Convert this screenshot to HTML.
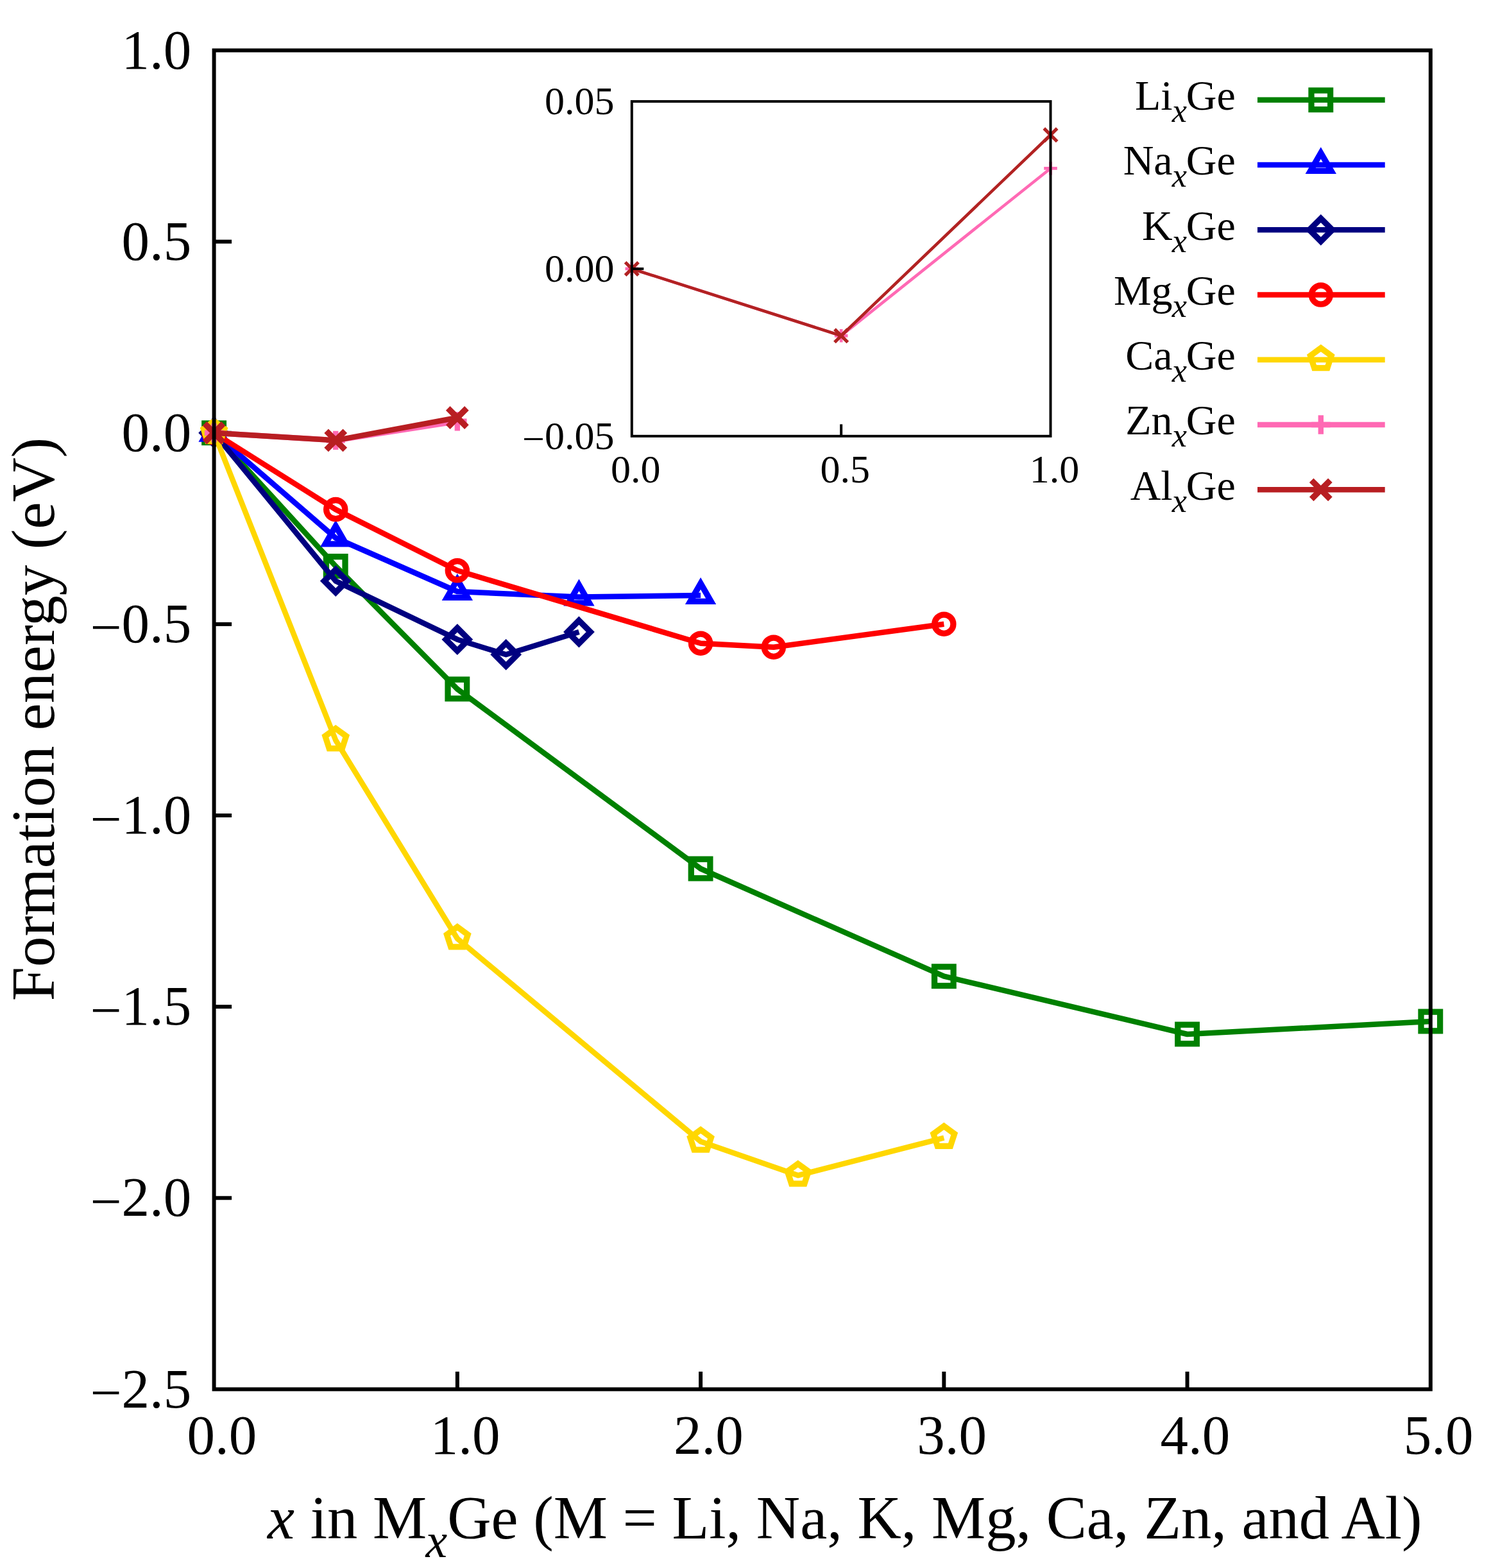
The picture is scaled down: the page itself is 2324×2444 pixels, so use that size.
<!DOCTYPE html><html><head><meta charset="utf-8"><title>Formation energy of MxGe</title>
<style>html,body{margin:0;padding:0;background:#fff;overflow:hidden;}svg{display:block;}text{font-family:"Liberation Serif","Times New Roman",serif;fill:#000;}</style></head><body>
<svg width="2324" height="2444" viewBox="0 0 2324 2444">
<rect width="2324" height="2444" fill="#fff"/>
<line x1="333.6" y1="376.63" x2="361.1" y2="376.63" stroke="#000" stroke-width="6.0"/>
<line x1="333.6" y1="674.76" x2="361.1" y2="674.76" stroke="#000" stroke-width="6.0"/>
<line x1="333.6" y1="972.89" x2="361.1" y2="972.89" stroke="#000" stroke-width="6.0"/>
<line x1="333.6" y1="1271.01" x2="361.1" y2="1271.01" stroke="#000" stroke-width="6.0"/>
<line x1="333.6" y1="1569.14" x2="361.1" y2="1569.14" stroke="#000" stroke-width="6.0"/>
<line x1="333.6" y1="1867.27" x2="361.1" y2="1867.27" stroke="#000" stroke-width="6.0"/>
<line x1="712.84" y1="2165.4" x2="712.84" y2="2137.9" stroke="#000" stroke-width="6.0"/>
<line x1="1092.08" y1="2165.4" x2="1092.08" y2="2137.9" stroke="#000" stroke-width="6.0"/>
<line x1="1471.32" y1="2165.4" x2="1471.32" y2="2137.9" stroke="#000" stroke-width="6.0"/>
<line x1="1850.56" y1="2165.4" x2="1850.56" y2="2137.9" stroke="#000" stroke-width="6.0"/>
<path d="M333.60,674.76L523.22,882.50L712.84,1074.00L1092.08,1354.00L1471.32,1521.70L1850.56,1612.00L2229.80,1592.00" fill="none" stroke="#008000" stroke-width="8.5" stroke-linejoin="round" stroke-linecap="butt"/>
<rect x="318.80" y="659.96" width="29.60" height="29.60" fill="none" stroke="#008000" stroke-width="9.3" stroke-linejoin="miter"/>
<rect x="508.42" y="867.70" width="29.60" height="29.60" fill="none" stroke="#008000" stroke-width="9.3" stroke-linejoin="miter"/>
<rect x="698.04" y="1059.20" width="29.60" height="29.60" fill="none" stroke="#008000" stroke-width="9.3" stroke-linejoin="miter"/>
<rect x="1077.28" y="1339.20" width="29.60" height="29.60" fill="none" stroke="#008000" stroke-width="9.3" stroke-linejoin="miter"/>
<rect x="1456.52" y="1506.90" width="29.60" height="29.60" fill="none" stroke="#008000" stroke-width="9.3" stroke-linejoin="miter"/>
<rect x="1835.76" y="1597.20" width="29.60" height="29.60" fill="none" stroke="#008000" stroke-width="9.3" stroke-linejoin="miter"/>
<rect x="2215.00" y="1577.20" width="29.60" height="29.60" fill="none" stroke="#008000" stroke-width="9.3" stroke-linejoin="miter"/>
<path d="M333.60,674.76L523.22,838.50L712.84,922.00L902.46,930.50L1092.08,928.00" fill="none" stroke="#0000ff" stroke-width="8.5" stroke-linejoin="round" stroke-linecap="butt"/>
<path d="M333.60,656.16L317.49,684.06L349.71,684.06Z" fill="none" stroke="#0000ff" stroke-width="9.30" stroke-linejoin="miter" stroke-miterlimit="10"/>
<path d="M523.22,819.90L507.11,847.80L539.33,847.80Z" fill="none" stroke="#0000ff" stroke-width="9.30" stroke-linejoin="miter" stroke-miterlimit="10"/>
<path d="M712.84,903.40L696.73,931.30L728.95,931.30Z" fill="none" stroke="#0000ff" stroke-width="9.30" stroke-linejoin="miter" stroke-miterlimit="10"/>
<path d="M902.46,911.90L886.35,939.80L918.57,939.80Z" fill="none" stroke="#0000ff" stroke-width="9.30" stroke-linejoin="miter" stroke-miterlimit="10"/>
<path d="M1092.08,909.40L1075.97,937.30L1108.19,937.30Z" fill="none" stroke="#0000ff" stroke-width="9.30" stroke-linejoin="miter" stroke-miterlimit="10"/>
<path d="M333.60,674.76L523.22,905.60L712.84,996.70L788.69,1020.30L902.46,985.00" fill="none" stroke="#000080" stroke-width="8.5" stroke-linejoin="round" stroke-linecap="butt"/>
<path d="M333.60,656.96L351.40,674.76L333.60,692.56L315.80,674.76Z" fill="none" stroke="#000080" stroke-width="9.3" stroke-linejoin="miter"/>
<path d="M523.22,887.80L541.02,905.60L523.22,923.40L505.42,905.60Z" fill="none" stroke="#000080" stroke-width="9.3" stroke-linejoin="miter"/>
<path d="M712.84,978.90L730.64,996.70L712.84,1014.50L695.04,996.70Z" fill="none" stroke="#000080" stroke-width="9.3" stroke-linejoin="miter"/>
<path d="M788.69,1002.50L806.49,1020.30L788.69,1038.10L770.89,1020.30Z" fill="none" stroke="#000080" stroke-width="9.3" stroke-linejoin="miter"/>
<path d="M902.46,967.20L920.26,985.00L902.46,1002.80L884.66,985.00Z" fill="none" stroke="#000080" stroke-width="9.3" stroke-linejoin="miter"/>
<path d="M333.60,674.76L523.22,794.10L712.84,889.30L1092.08,1002.70L1205.85,1008.70L1471.32,972.70" fill="none" stroke="#ff0000" stroke-width="8.5" stroke-linejoin="round" stroke-linecap="butt"/>
<circle cx="333.60" cy="674.76" r="14.60" fill="none" stroke="#ff0000" stroke-width="9.3"/>
<circle cx="523.22" cy="794.10" r="14.60" fill="none" stroke="#ff0000" stroke-width="9.3"/>
<circle cx="712.84" cy="889.30" r="14.60" fill="none" stroke="#ff0000" stroke-width="9.3"/>
<circle cx="1092.08" cy="1002.70" r="14.60" fill="none" stroke="#ff0000" stroke-width="9.3"/>
<circle cx="1205.85" cy="1008.70" r="14.60" fill="none" stroke="#ff0000" stroke-width="9.3"/>
<circle cx="1471.32" cy="972.70" r="14.60" fill="none" stroke="#ff0000" stroke-width="9.3"/>
<path d="M333.60,674.76L523.22,1153.70L712.84,1463.00L1092.08,1779.30L1243.78,1832.10L1471.32,1773.50" fill="none" stroke="#ffd700" stroke-width="8.5" stroke-linejoin="round" stroke-linecap="butt"/>
<path d="M333.60,656.56L349.96,668.44L343.71,687.67L323.49,687.67L317.24,668.44Z" fill="none" stroke="#ffd700" stroke-width="9.3" stroke-linejoin="miter"/>
<path d="M523.22,1135.50L539.58,1147.38L533.33,1166.62L513.11,1166.62L506.86,1147.38Z" fill="none" stroke="#ffd700" stroke-width="9.3" stroke-linejoin="miter"/>
<path d="M712.84,1444.80L729.20,1456.68L722.95,1475.92L702.73,1475.92L696.48,1456.68Z" fill="none" stroke="#ffd700" stroke-width="9.3" stroke-linejoin="miter"/>
<path d="M1092.08,1761.10L1108.44,1772.98L1102.19,1792.22L1081.97,1792.22L1075.72,1772.98Z" fill="none" stroke="#ffd700" stroke-width="9.3" stroke-linejoin="miter"/>
<path d="M1243.78,1813.90L1260.13,1825.78L1253.89,1845.02L1233.67,1845.02L1227.42,1825.78Z" fill="none" stroke="#ffd700" stroke-width="9.3" stroke-linejoin="miter"/>
<path d="M1471.32,1755.30L1487.68,1767.18L1481.43,1786.42L1461.21,1786.42L1454.96,1767.18Z" fill="none" stroke="#ffd700" stroke-width="9.3" stroke-linejoin="miter"/>
<path d="M333.60,674.76L523.22,686.40L712.84,656.80" fill="none" stroke="#ff69b4" stroke-width="8.5" stroke-linejoin="round" stroke-linecap="butt"/>
<path d="M318.90,674.76H348.30M333.60,660.06V689.46" stroke="#ff69b4" stroke-width="8.37" fill="none"/>
<path d="M508.52,686.40H537.92M523.22,671.70V701.10" stroke="#ff69b4" stroke-width="8.37" fill="none"/>
<path d="M698.14,656.80H727.54M712.84,642.10V671.50" stroke="#ff69b4" stroke-width="8.37" fill="none"/>
<path d="M333.60,674.76L523.22,686.40L712.84,651.00" fill="none" stroke="#b81e22" stroke-width="8.5" stroke-linejoin="round" stroke-linecap="butt"/>
<path d="M319.00,660.16L348.20,689.36M319.00,689.36L348.20,660.16" stroke="#b81e22" stroke-width="9.3" fill="none"/>
<path d="M508.62,671.80L537.82,701.00M508.62,701.00L537.82,671.80" stroke="#b81e22" stroke-width="9.3" fill="none"/>
<path d="M698.24,636.40L727.44,665.60M698.24,665.60L727.44,636.40" stroke="#b81e22" stroke-width="9.3" fill="none"/>
<rect x="333.6" y="78.5" width="1896.20" height="2086.90" fill="none" stroke="#000" stroke-width="6.0"/>
<text x="298.3" y="106.70" font-size="87.0" text-anchor="end">1.0</text>
<text x="298.3" y="404.83" font-size="87.0" text-anchor="end">0.5</text>
<text x="298.3" y="702.96" font-size="87.0" text-anchor="end">0.0</text>
<text x="298.3" y="1001.09" font-size="87.0" text-anchor="end"><tspan dy="6.3">−</tspan><tspan dy="-6.3">0.5</tspan></text>
<text x="298.3" y="1299.21" font-size="87.0" text-anchor="end"><tspan dy="6.3">−</tspan><tspan dy="-6.3">1.0</tspan></text>
<text x="298.3" y="1597.34" font-size="87.0" text-anchor="end"><tspan dy="6.3">−</tspan><tspan dy="-6.3">1.5</tspan></text>
<text x="298.3" y="1895.47" font-size="87.0" text-anchor="end"><tspan dy="6.3">−</tspan><tspan dy="-6.3">2.0</tspan></text>
<text x="298.3" y="2193.60" font-size="87.0" text-anchor="end"><tspan dy="6.3">−</tspan><tspan dy="-6.3">2.5</tspan></text>
<text x="345.80" y="2265.7" font-size="87.0" text-anchor="middle">0.0</text>
<text x="725.04" y="2265.7" font-size="87.0" text-anchor="middle">1.0</text>
<text x="1104.28" y="2265.7" font-size="87.0" text-anchor="middle">2.0</text>
<text x="1483.52" y="2265.7" font-size="87.0" text-anchor="middle">3.0</text>
<text x="1862.76" y="2265.7" font-size="87.0" text-anchor="middle">4.0</text>
<text x="2242.00" y="2265.7" font-size="87.0" text-anchor="middle">5.0</text>
<text transform="translate(83.7,1557.5) rotate(-90)" x="-2.8" y="0" font-size="95.5">Formation energy (eV)</text>
<text x="417.1" y="2398" font-size="94.6" font-style="italic">x</text>
<text x="483.8" y="2398" font-size="94.6">in M</text>
<text x="663.4" y="2427" font-size="75.7" font-style="italic">x</text>
<text x="697.3" y="2398" font-size="94.6">Ge (M = Li, Na, K, Mg, Ca, Zn, and Al)</text>
<rect x="984.8" y="158.1" width="652.70" height="521.70" fill="#fff" stroke="none"/>
<path d="M984.80,418.95L1311.15,523.29L1637.50,262.44" fill="none" stroke="#ff69b4" stroke-width="4.6" stroke-linejoin="round"/>
<path d="M974.51,418.95H995.09M984.80,408.66V429.24" stroke="#ff69b4" stroke-width="4.68" fill="none"/>
<path d="M1300.86,523.29H1321.44M1311.15,513.00V533.58" stroke="#ff69b4" stroke-width="4.68" fill="none"/>
<path d="M1627.21,262.44H1647.79M1637.50,252.15V272.73" stroke="#ff69b4" stroke-width="4.68" fill="none"/>
<path d="M984.80,418.95L1311.15,523.29L1637.50,210.27" fill="none" stroke="#b22222" stroke-width="4.6" stroke-linejoin="round"/>
<path d="M974.58,408.73L995.02,429.17M974.58,429.17L995.02,408.73" stroke="#b22222" stroke-width="5.2" fill="none"/>
<path d="M1300.93,513.07L1321.37,533.51M1300.93,533.51L1321.37,513.07" stroke="#b22222" stroke-width="5.2" fill="none"/>
<path d="M1627.28,200.05L1647.72,220.49M1627.28,220.49L1647.72,200.05" stroke="#b22222" stroke-width="5.2" fill="none"/>
<rect x="984.8" y="158.1" width="652.70" height="521.70" fill="none" stroke="#000" stroke-width="4.0"/>
<line x1="984.8" y1="418.95" x2="1003.3" y2="418.95" stroke="#000" stroke-width="4.0"/>
<line x1="1311.15" y1="679.8" x2="1311.15" y2="661.3" stroke="#000" stroke-width="4.0"/>
<text x="957.5" y="178.31" font-size="62.0" text-anchor="end">0.05</text>
<text x="957.5" y="439.16" font-size="62.0" text-anchor="end">0.00</text>
<text x="957.5" y="700.01" font-size="62.0" text-anchor="end"><tspan dy="4.5">−</tspan><tspan dy="-4.5">0.05</tspan></text>
<text x="990.80" y="751.7" font-size="62.0" text-anchor="middle">0.0</text>
<text x="1317.15" y="751.7" font-size="62.0" text-anchor="middle">0.5</text>
<text x="1643.50" y="751.7" font-size="62.0" text-anchor="middle">1.0</text>
<line x1="1960" y1="155.80" x2="2158.7" y2="155.80" stroke="#008000" stroke-width="8.5"/>
<rect x="2044.00" y="141.00" width="29.60" height="29.60" fill="none" stroke="#008000" stroke-width="9.3" stroke-linejoin="miter"/>
<text x="1925.80" y="171.20" font-size="66.0" text-anchor="end">Ge</text>
<text x="1826.63" y="190.10" font-size="52.3" font-style="italic">x</text>
<text x="1827.63" y="171.20" font-size="66.0" text-anchor="end">Li</text>
<line x1="1960" y1="257.05" x2="2158.7" y2="257.05" stroke="#0000ff" stroke-width="8.5"/>
<path d="M2058.80,238.45L2042.69,266.35L2074.91,266.35Z" fill="none" stroke="#0000ff" stroke-width="9.30" stroke-linejoin="miter" stroke-miterlimit="10"/>
<text x="1925.80" y="272.45" font-size="66.0" text-anchor="end">Ge</text>
<text x="1826.63" y="291.35" font-size="52.3" font-style="italic">x</text>
<text x="1827.63" y="272.45" font-size="66.0" text-anchor="end">Na</text>
<line x1="1960" y1="358.30" x2="2158.7" y2="358.30" stroke="#000080" stroke-width="8.5"/>
<path d="M2058.80,340.50L2076.60,358.30L2058.80,376.10L2041.00,358.30Z" fill="none" stroke="#000080" stroke-width="9.3" stroke-linejoin="miter"/>
<text x="1925.80" y="373.70" font-size="66.0" text-anchor="end">Ge</text>
<text x="1826.63" y="392.60" font-size="52.3" font-style="italic">x</text>
<text x="1827.63" y="373.70" font-size="66.0" text-anchor="end">K</text>
<line x1="1960" y1="459.55" x2="2158.7" y2="459.55" stroke="#ff0000" stroke-width="8.5"/>
<circle cx="2058.80" cy="459.55" r="14.60" fill="none" stroke="#ff0000" stroke-width="9.3"/>
<text x="1925.80" y="474.95" font-size="66.0" text-anchor="end">Ge</text>
<text x="1826.63" y="493.85" font-size="52.3" font-style="italic">x</text>
<text x="1827.63" y="474.95" font-size="66.0" text-anchor="end">Mg</text>
<line x1="1960" y1="560.80" x2="2158.7" y2="560.80" stroke="#ffd700" stroke-width="8.5"/>
<path d="M2058.80,542.60L2075.16,554.48L2068.91,573.72L2048.69,573.72L2042.44,554.48Z" fill="none" stroke="#ffd700" stroke-width="9.3" stroke-linejoin="miter"/>
<text x="1925.80" y="576.20" font-size="66.0" text-anchor="end">Ge</text>
<text x="1826.63" y="595.10" font-size="52.3" font-style="italic">x</text>
<text x="1827.63" y="576.20" font-size="66.0" text-anchor="end">Ca</text>
<line x1="1960" y1="662.05" x2="2158.7" y2="662.05" stroke="#ff69b4" stroke-width="8.5"/>
<path d="M2044.10,662.05H2073.50M2058.80,647.35V676.75" stroke="#ff69b4" stroke-width="8.37" fill="none"/>
<text x="1925.80" y="677.45" font-size="66.0" text-anchor="end">Ge</text>
<text x="1826.63" y="696.35" font-size="52.3" font-style="italic">x</text>
<text x="1827.63" y="677.45" font-size="66.0" text-anchor="end">Zn</text>
<line x1="1960" y1="763.30" x2="2158.7" y2="763.30" stroke="#b81e22" stroke-width="8.5"/>
<path d="M2044.20,748.70L2073.40,777.90M2044.20,777.90L2073.40,748.70" stroke="#b81e22" stroke-width="9.3" fill="none"/>
<text x="1925.80" y="778.70" font-size="66.0" text-anchor="end">Ge</text>
<text x="1826.63" y="797.60" font-size="52.3" font-style="italic">x</text>
<text x="1827.63" y="778.70" font-size="66.0" text-anchor="end">Al</text>
</svg></body></html>
